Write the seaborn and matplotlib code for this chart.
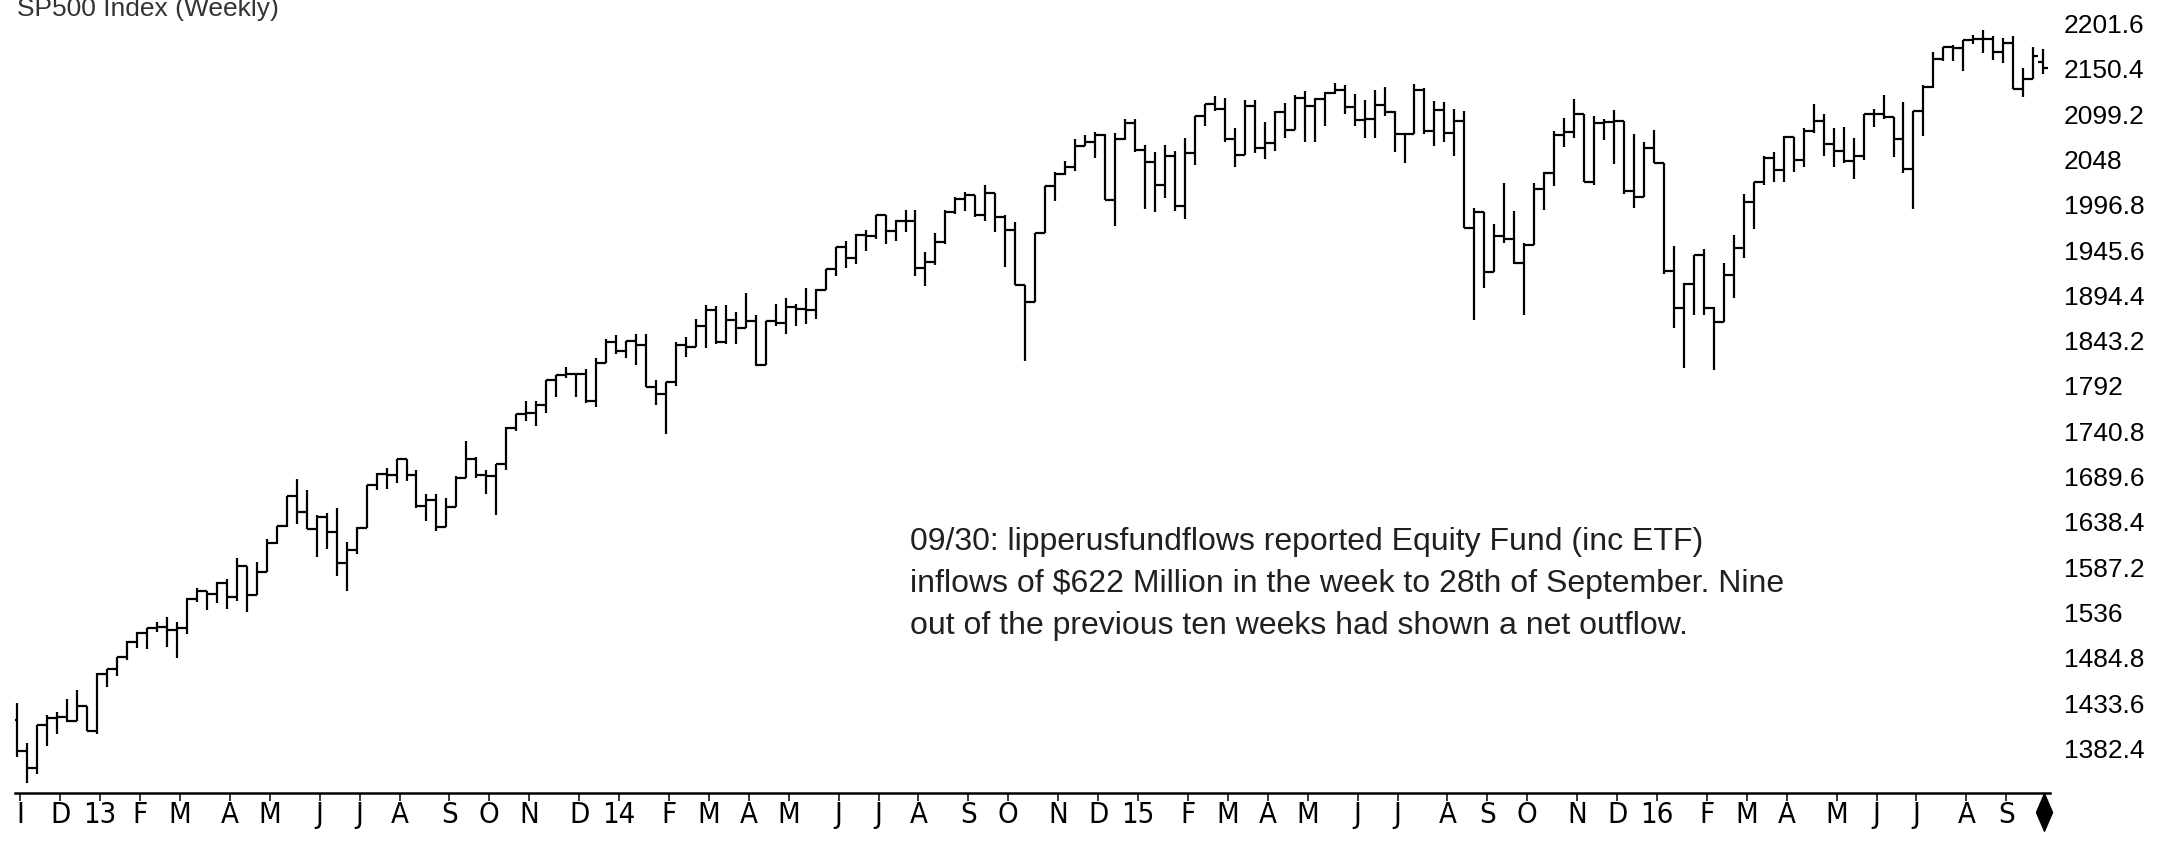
import numpy as np
import pandas as pd
import matplotlib
matplotlib.use('Agg')
import matplotlib.pyplot as plt
import seaborn as sns
from matplotlib import font_manager

# weekly bars (week ending Friday)
opens = [1414.0, 1379.9, 1359.9, 1409.2, 1416.2, 1418.1, 1413.6, 1430.2, 1402.4, 1466.5,
         1472.1, 1486.0, 1503.0, 1513.2, 1517.9, 1519.8, 1515.6, 1518.2, 1551.2, 1560.7,
         1556.9, 1569.2, 1553.3, 1588.9, 1555.3, 1582.2, 1614.4, 1633.7, 1667.5, 1649.6,
         1630.7, 1643.4, 1626.7, 1592.4, 1606.3, 1631.9, 1680.2, 1692.1, 1691.7, 1709.7,
         1691.4, 1655.8, 1663.5, 1633.0, 1655.2, 1688.0, 1709.9, 1691.8, 1690.5, 1703.2,
         1744.5, 1759.8, 1761.6, 1770.6, 1798.2, 1804.8, 1805.8, 1805.1, 1775.3, 1818.3,
         1841.4, 1831.4, 1842.4, 1838.7, 1790.3, 1782.6, 1797.0, 1838.6, 1836.3, 1859.5,
         1878.0, 1841.1, 1866.5, 1857.6, 1865.1, 1815.7, 1864.9, 1863.4, 1881.1, 1878.5,
         1877.9, 1900.5, 1923.6, 1949.4, 1936.2, 1962.9, 1961.0, 1985.4, 1967.6, 1978.2,
         1978.3, 1925.2, 1931.6, 1955.1, 1988.4, 2003.4, 2007.7, 1985.5, 2010.4, 1982.9,
         1967.9, 1906.1, 1886.8, 1964.6, 2018.1, 2031.9, 2039.8, 2063.5, 2067.6, 2075.4,
         2002.3, 2070.7, 2088.8, 2058.2, 2044.8, 2019.4, 2051.8, 1995.0, 2055.5, 2097.0,
         2110.3, 2104.5, 2071.3, 2053.4, 2108.1, 2061.0, 2067.0, 2102.1, 2081.2, 2117.7,
         2108.3, 2116.1, 2122.7, 2126.1, 2107.4, 2092.8, 2094.1, 2110.0, 2101.5, 2076.8,
         2076.6, 2126.6, 2079.7, 2103.8, 2077.6, 2091.5, 1970.9, 1988.9, 1921.2, 1961.1,
         1958.0, 1931.3, 1951.4, 2014.9, 2033.1, 2075.2, 2079.4, 2099.2, 2023.0, 2089.2,
         2090.1, 2091.7, 2012.4, 2005.6, 2061.0, 2043.9, 1922.0, 1880.3, 1906.9, 1940.2,
         1880.0, 1864.8, 1917.8, 1948.1, 2000.0, 2022.2, 2049.6, 2035.9, 2072.8, 2047.6,
         2080.7, 2091.6, 2065.3, 2057.1, 2046.6, 2052.3, 2099.1, 2099.1, 2096.1, 2071.2,
         2037.4, 2103.0, 2129.9, 2161.7, 2175.0, 2173.6, 2182.9, 2184.1, 2183.9, 2169.0,
         2180.0, 2127.8, 2139.2, 2158.5]
highs = [1433.4, 1388.8, 1409.2, 1419.7, 1423.7, 1438.6, 1448.0, 1430.2, 1467.9, 1472.3,
         1486.0, 1503.3, 1514.4, 1518.3, 1524.7, 1530.9, 1525.3, 1552.5, 1563.6, 1560.7,
         1570.3, 1573.7, 1597.4, 1588.9, 1592.6, 1618.5, 1633.7, 1667.5, 1687.2, 1674.2,
         1646.5, 1648.7, 1654.2, 1615.9, 1632.0, 1680.2, 1693.1, 1698.8, 1709.7, 1709.7,
         1696.8, 1669.5, 1669.5, 1664.8, 1690.0, 1729.9, 1711.4, 1696.6, 1703.4, 1745.3,
         1759.8, 1775.2, 1774.5, 1798.2, 1804.8, 1813.6, 1806.0, 1811.5, 1823.8, 1844.9,
         1849.4, 1843.2, 1850.8, 1850.8, 1798.8, 1797.0, 1841.7, 1847.5, 1867.9, 1883.6,
         1882.3, 1884.0, 1875.2, 1897.3, 1872.5, 1864.9, 1884.9, 1891.3, 1885.0, 1902.2,
         1901.3, 1924.0, 1949.4, 1955.6, 1963.9, 1968.2, 1985.6, 1985.6, 1979.9, 1991.4,
         1991.4, 1942.9, 1965.0, 1991.0, 2005.0, 2011.2, 2007.7, 2019.3, 2010.5, 1985.2,
         1977.4, 1906.1, 1965.3, 2018.2, 2034.3, 2046.2, 2071.5, 2075.8, 2079.5, 2076.3,
         2077.9, 2093.6, 2093.6, 2064.4, 2056.4, 2064.6, 2057.6, 2072.4, 2097.0, 2110.6,
         2119.6, 2117.5, 2083.5, 2114.9, 2114.9, 2089.8, 2102.6, 2111.9, 2120.9, 2125.9,
         2117.7, 2123.9, 2134.7, 2132.3, 2121.9, 2115.0, 2126.6, 2129.9, 2102.4, 2077.1,
         2132.8, 2128.3, 2114.2, 2112.7, 2105.1, 2102.5, 1993.5, 1988.9, 1975.0, 2020.9,
         1989.2, 1953.0, 2020.9, 2033.5, 2079.7, 2094.3, 2116.5, 2099.2, 2097.1, 2094.1,
         2104.3, 2091.7, 2076.7, 2067.7, 2081.6, 2043.9, 1950.3, 1908.9, 1940.2, 1947.2,
         1881.6, 1930.7, 1963.0, 2009.1, 2022.4, 2052.4, 2056.6, 2074.0, 2072.8, 2083.1,
         2111.1, 2099.9, 2083.4, 2084.9, 2071.9, 2099.3, 2105.3, 2120.6, 2096.1, 2113.3,
         2103.0, 2131.7, 2169.1, 2175.6, 2177.1, 2182.9, 2188.5, 2193.8, 2187.9, 2184.9,
         2187.9, 2150.8, 2175.3, 2172.7]
lows = [1373.0, 1343.4, 1353.5, 1385.4, 1398.2, 1411.9, 1413.6, 1401.6, 1398.1, 1451.6,
        1463.8, 1482.0, 1495.7, 1495.0, 1513.6, 1497.3, 1485.0, 1512.0, 1547.4, 1538.6,
        1546.2, 1539.5, 1548.6, 1536.0, 1555.3, 1581.3, 1613.9, 1632.0, 1635.5, 1630.7,
        1598.2, 1608.1, 1577.7, 1560.3, 1601.5, 1631.7, 1674.2, 1676.0, 1681.9, 1684.0,
        1654.2, 1639.4, 1627.5, 1633.0, 1655.2, 1688.0, 1687.9, 1670.4, 1646.5, 1696.8,
        1740.5, 1752.7, 1746.2, 1761.6, 1779.1, 1800.9, 1779.1, 1772.3, 1768.0, 1818.3,
        1827.7, 1823.7, 1815.5, 1790.3, 1770.5, 1737.9, 1791.8, 1824.6, 1836.3, 1834.4,
        1839.6, 1839.5, 1839.6, 1857.6, 1814.4, 1815.7, 1859.7, 1850.6, 1859.8, 1862.4,
        1868.1, 1900.5, 1916.0, 1925.8, 1930.0, 1944.7, 1958.2, 1952.9, 1955.6, 1965.8,
        1916.4, 1904.8, 1928.3, 1952.3, 1986.6, 1990.0, 1983.2, 1978.6, 1966.0, 1926.0,
        1906.0, 1820.7, 1886.8, 1964.6, 2001.0, 2030.4, 2034.5, 2063.5, 2049.6, 2002.3,
        1972.6, 2069.4, 2056.9, 1992.4, 1988.1, 2004.5, 1989.2, 1980.9, 2041.9, 2085.4,
        2103.3, 2067.3, 2039.7, 2053.4, 2055.8, 2048.4, 2058.0, 2072.4, 2081.2, 2067.9,
        2067.9, 2085.7, 2122.3, 2099.1, 2085.7, 2072.1, 2072.5, 2097.4, 2056.3, 2044.0,
        2076.6, 2077.3, 2063.5, 2067.9, 2052.1, 1970.9, 1867.0, 1903.1, 1921.2, 1953.0,
        1929.9, 1871.9, 1951.4, 1990.3, 2018.2, 2061.7, 2072.4, 2022.0, 2019.4, 2070.3,
        2042.4, 2008.8, 1993.3, 2005.6, 2043.6, 1918.5, 1857.8, 1812.3, 1872.7, 1872.7,
        1810.1, 1864.8, 1891.0, 1937.1, 1969.3, 2019.4, 2022.5, 2022.5, 2033.8, 2039.7,
        2077.5, 2052.3, 2039.7, 2044.0, 2025.9, 2047.3, 2085.1, 2094.0, 2050.4, 2032.1,
        1991.7, 2074.0, 2128.8, 2159.0, 2159.2, 2147.6, 2178.0, 2168.5, 2160.4, 2157.3,
        2127.8, 2119.1, 2139.2, 2145.0]
closes = [1379.9, 1359.9, 1409.2, 1416.2, 1418.1, 1413.6, 1430.2, 1402.4, 1466.5, 1472.1,
          1486.0, 1503.0, 1513.2, 1517.9, 1519.8, 1515.6, 1518.2, 1551.2, 1560.7, 1556.9,
          1569.2, 1553.3, 1588.9, 1555.3, 1582.2, 1614.4, 1633.7, 1667.5, 1649.6, 1630.7,
          1643.4, 1626.7, 1592.4, 1606.3, 1631.9, 1680.2, 1692.1, 1691.7, 1709.7, 1691.4,
          1655.8, 1663.5, 1633.0, 1655.2, 1688.0, 1709.9, 1691.8, 1690.5, 1703.2, 1744.5,
          1759.8, 1761.6, 1770.6, 1798.2, 1804.8, 1805.8, 1805.1, 1775.3, 1818.3, 1841.4,
          1831.4, 1842.4, 1838.7, 1790.3, 1782.6, 1797.0, 1838.6, 1836.3, 1859.5, 1878.0,
          1841.1, 1866.5, 1857.6, 1865.1, 1815.7, 1864.9, 1863.4, 1881.1, 1878.5, 1877.9,
          1900.5, 1923.6, 1949.4, 1936.2, 1962.9, 1961.0, 1985.4, 1967.6, 1978.2, 1978.3,
          1925.2, 1931.6, 1955.1, 1988.4, 2003.4, 2007.7, 1985.5, 2010.4, 1982.9, 1967.9,
          1906.1, 1886.8, 1964.6, 2018.1, 2031.9, 2039.8, 2063.5, 2067.6, 2075.4, 2002.3,
          2070.7, 2088.8, 2058.2, 2044.8, 2019.4, 2051.8, 1995.0, 2055.5, 2097.0, 2110.3,
          2104.5, 2071.3, 2053.4, 2108.1, 2061.0, 2067.0, 2102.1, 2081.2, 2117.7, 2108.3,
          2116.1, 2122.7, 2126.1, 2107.4, 2092.8, 2094.1, 2110.0, 2101.5, 2076.8, 2076.6,
          2126.6, 2079.7, 2103.8, 2077.6, 2091.5, 1970.9, 1988.9, 1921.2, 1961.1, 1958.0,
          1931.3, 1951.4, 2014.9, 2033.1, 2075.2, 2079.4, 2099.2, 2023.0, 2089.2, 2090.1,
          2091.7, 2012.4, 2005.6, 2061.0, 2043.9, 1922.0, 1880.3, 1906.9, 1940.2, 1880.0,
          1864.8, 1917.8, 1948.1, 2000.0, 2022.2, 2049.6, 2035.9, 2072.8, 2047.6, 2080.7,
          2091.6, 2065.3, 2057.1, 2046.6, 2052.3, 2099.1, 2099.1, 2096.1, 2071.2, 2037.4,
          2103.0, 2129.9, 2161.7, 2175.0, 2173.6, 2182.9, 2184.1, 2183.9, 2169.0, 2180.0,
          2127.8, 2139.2, 2164.7, 2151.1]

first_week = '2012-11-09'
month_labels = ['I', 'D', '13', 'F', 'M', 'A', 'M', 'J', 'J', 'A', 'S', 'O', 'N', 'D',
                '14', 'F', 'M', 'A', 'M', 'J', 'J', 'A', 'S', 'O', 'N', 'D',
                '15', 'F', 'M', 'A', 'M', 'J', 'J', 'A', 'S', 'O', 'N', 'D',
                '16', 'F', 'M', 'A', 'M', 'J', 'J', 'A', 'S']
price_ticks = [1382.4, 1433.6, 1484.8, 1536, 1587.2, 1638.4, 1689.6, 1740.8, 1792,
               1843.2, 1894.4, 1945.6, 1996.8, 2048, 2099.2, 2150.4, 2201.6]
title = 'SP500 Index (Weekly)'
note_lines = ['09/30: lipperusfundflows reported Equity Fund (inc ETF)',
              'inflows of $622 Million in the week to 28th of September. Nine',
              'out of the previous ten weeks had shown a net outflow.']

sns.set_theme(style='white')
plt.rcParams['font.family'] = ['Liberation Sans', 'DejaVu Sans']

names = {f.name for f in font_manager.fontManager.ttflist}
if 'Liberation Sans Narrow' in names:
    narrow = {'family': 'Liberation Sans Narrow', 'size': 26}
else:
    narrow = {'family': 'DejaVu Sans', 'size': 21, 'stretch': 'condensed'}

W, H = 2170, 841
fig = plt.figure(figsize=(W / 100, H / 100), dpi=100)
ax = fig.add_axes([15 / W, 48 / H, 2035 / W, 793 / H])

x = np.arange(len(closes))
ax.vlines(x, lows, highs, color='black', lw=1.6)
ax.hlines(opens, x - 0.5, x, color='black', lw=1.6)
ax.hlines(closes, x, x + 0.5, color='black', lw=1.6)

ax.set_xlim(-0.23, 203.68)
ax.set_ylim(1331.9, 2228.2)

# month ticks at first bar of each month
dates = pd.date_range(first_week, periods=len(closes), freq='W-FRI')
month_start = np.flatnonzero(np.r_[True, dates.month[1:] != dates.month[:-1]])
ax.set_xticks(month_start + 0.3)
ax.set_xticklabels(month_labels, **narrow)
ax.tick_params(axis='x', direction='out', length=6, width=1.1, pad=0,
               color='black', labelcolor='black', bottom=True)

ax.yaxis.tick_right()
ax.set_yticks(price_ticks)
ax.set_yticklabels([f'{v:g}' for v in price_ticks], fontsize=19)
ax.tick_params(axis='y', length=0, pad=10, labelcolor='black')

sns.despine(ax=ax, left=True, right=True, top=True)
ax.spines['bottom'].set_color('black')
ax.spines['bottom'].set_linewidth(1.8)
ax.grid(False)

# marker for the latest bar
ax.plot([x[-1] + 0.1], [-0.024],
        marker=[(-0.43, 0), (0, 1), (0.43, 0), (0, -1), (-0.43, 0)],
        markersize=27, color='black', transform=ax.get_xaxis_transform(),
        clip_on=False)

fig.text(17 / W, 1 - 16 / H, title, fontsize=19, color='#333333',
         ha='left', va='baseline')
for k, line in enumerate(note_lines):
    fig.text(910 / W, 1 - (550 + 42 * k) / H, line, fontsize=23,
             color='#202020', ha='left', va='baseline')

fig.savefig('out.png', dpi=100, facecolor='white')
